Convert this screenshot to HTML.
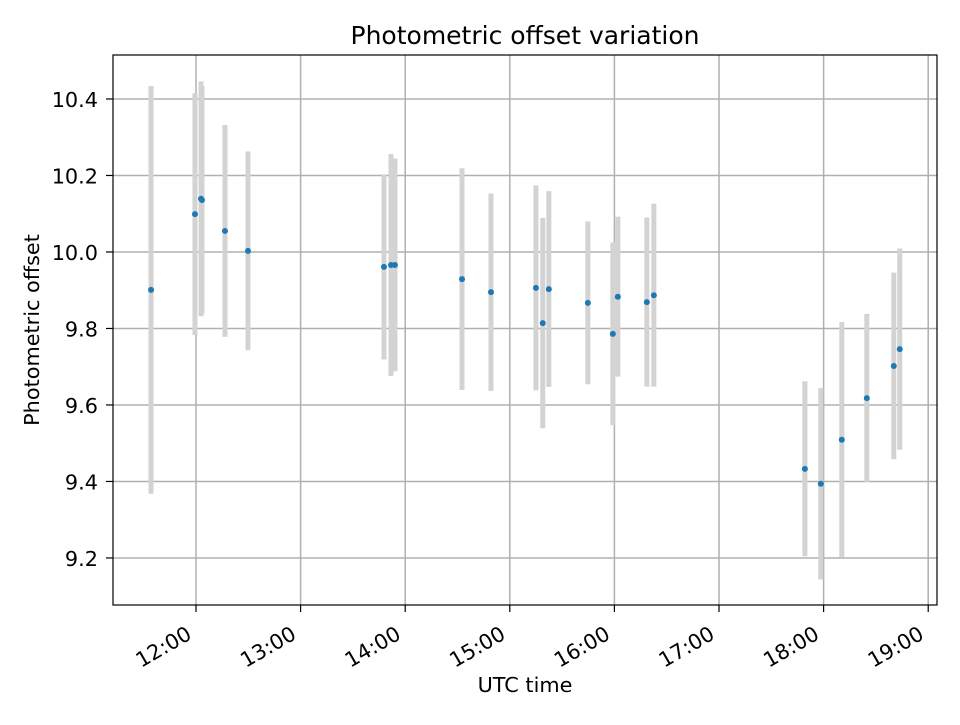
<!DOCTYPE html>
<html><head><meta charset="utf-8"><style>
body{margin:0;background:#fff;font-family:"Liberation Sans","DejaVu Sans",sans-serif}
svg text{font-family:"DejaVu Sans","Liberation Sans",sans-serif}
</style></head><body>
<svg id="chart" width="960" height="720" xmlns="http://www.w3.org/2000/svg">
<rect width="960" height="720" fill="#fff"/>
<g id="grid"></g>
<g id="errs"></g>
<g id="pts"></g>
<rect x="113" y="55" width="824" height="550" fill="none" stroke="#000" stroke-width="1.2"/>
<g id="ticks"></g>
<text x="525" y="44" font-size="25" text-anchor="middle">Photometric offset variation</text>
<text x="525" y="692" font-size="20.8" text-anchor="middle">UTC time</text>
<text transform="translate(39,330) rotate(-90)" font-size="20.8" text-anchor="middle">Photometric offset</text>
</svg>
<script>
const times=[11.570,11.990,12.048,12.057,12.277,12.497,13.797,13.864,13.902,14.543,14.820,15.250,15.315,15.373,15.746,15.985,16.033,16.310,16.377,17.821,17.973,18.174,18.413,18.671,18.728];
const offsets=[9.901,10.099,10.139,10.136,10.055,10.003,9.961,9.966,9.966,9.929,9.895,9.906,9.814,9.903,9.867,9.786,9.883,9.869,9.887,9.433,9.394,9.509,9.618,9.702,9.746];
const errors=[0.533,0.316,0.307,0.298,0.277,0.260,0.242,0.290,0.278,0.290,0.258,0.268,0.275,0.256,0.213,0.239,0.209,0.221,0.239,0.229,0.250,0.308,0.220,0.244,0.263];
const yTicks=[9.2,9.4,9.6,9.8,10.0,10.2,10.4];
const yTickLabels=["9.2","9.4","9.6","9.8","10.0","10.2","10.4"];
const xTicks=[12,13,14,15,16,17,18,19];
const xTickLabels=["12:00","13:00","14:00","15:00","16:00","17:00","18:00","19:00"];
const L=113,R=937,T=55,B=605,x0=11.2065,x1=19.084,y0=9.077,y1=10.515;
const X=v=>L+(v-x0)/(x1-x0)*(R-L);
const Y=v=>B-(v-y0)/(y1-y0)*(B-T);
const NS="http://www.w3.org/2000/svg";
function mk(tag,attrs,parent){const e=document.createElementNS(NS,tag);for(const k in attrs)e.setAttribute(k,attrs[k]);parent.appendChild(e);return e;}
const grid=document.getElementById('grid'),ticks=document.getElementById('ticks'),errs=document.getElementById('errs'),pts=document.getElementById('pts');
yTicks.forEach((v,i)=>{const y=Y(v);
 const g=mk('line',{x1:L,x2:R,y1:y,y2:y,stroke:'#b0b0b0','stroke-width':1.5},grid);
 
 const t=mk('line',{x1:L-7,x2:L,y1:y,y2:y,stroke:'#000','stroke-width':1.2},ticks);
 
 const tx=mk('text',{x:L-15,y:y+8,'font-size':20.8,'text-anchor':'end'},ticks);tx.textContent=yTickLabels[i];
 
});
xTicks.forEach((v,i)=>{const x=X(v);
 const g=mk('line',{x1:x,x2:x,y1:T,y2:B,stroke:'#b0b0b0','stroke-width':1.5},grid);
 
 const t=mk('line',{x1:x,x2:x,y1:B,y2:B+7,stroke:'#000','stroke-width':1.2},ticks);
 
 const tx=mk('text',{transform:`translate(${x-3},${B+33}) rotate(-30)`,'font-size':20.8,'text-anchor':'end'},ticks);tx.textContent=xTickLabels[i];
 
});
times.forEach((t,i)=>{const x=X(t);
 const e=mk('line',{x1:x,x2:x,y1:Y(offsets[i]+errors[i]),y2:Y(offsets[i]-errors[i]),stroke:'#d3d3d3','stroke-width':5},errs);
 
 const c=mk('circle',{cx:x,cy:Y(offsets[i]),r:3,fill:'#1f77b4'},pts);
 
});
</script>
</body></html>
